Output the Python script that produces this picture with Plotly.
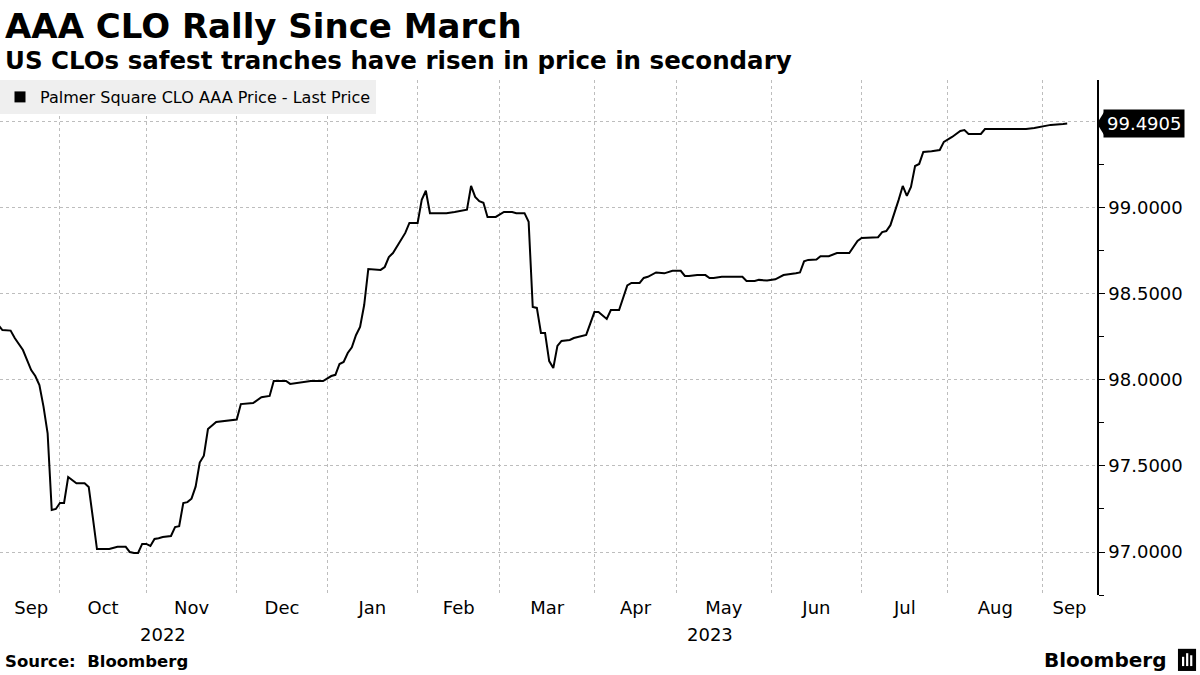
import plotly.graph_objects as go

# Palmer Square CLO AAA price (business days)
dates = [
    "2022-09-12", "2022-09-13", "2022-09-15", "2022-09-16", "2022-09-20", "2022-09-22",
    "2022-09-23", "2022-09-26", "2022-09-27", "2022-09-28", "2022-09-29", "2022-09-30",
    "2022-10-03", "2022-10-04", "2022-10-05", "2022-10-07", "2022-10-11", "2022-10-12",
    "2022-10-13", "2022-10-14", "2022-10-19", "2022-10-21", "2022-10-25", "2022-10-26",
    "2022-10-27", "2022-10-28", "2022-10-31", "2022-11-01", "2022-11-02", "2022-11-03",
    "2022-11-04", "2022-11-07", "2022-11-09", "2022-11-10", "2022-11-11", "2022-11-14",
    "2022-11-15", "2022-11-16", "2022-11-17", "2022-11-18", "2022-11-21", "2022-11-22",
    "2022-11-24", "2022-11-30", "2022-12-01", "2022-12-02", "2022-12-07", "2022-12-09",
    "2022-12-13", "2022-12-14", "2022-12-19", "2022-12-20", "2022-12-22", "2022-12-27",
    "2022-12-30", "2023-01-03", "2023-01-04", "2023-01-05", "2023-01-06", "2023-01-09",
    "2023-01-10", "2023-01-11", "2023-01-12", "2023-01-13", "2023-01-16", "2023-01-19",
    "2023-01-20", "2023-01-23", "2023-01-24", "2023-01-26", "2023-01-27", "2023-01-30",
    "2023-02-01", "2023-02-02", "2023-02-03", "2023-02-06", "2023-02-10", "2023-02-14",
    "2023-02-17", "2023-02-20", "2023-02-21", "2023-02-22", "2023-02-23", "2023-02-24",
    "2023-02-28", "2023-03-02", "2023-03-06", "2023-03-07", "2023-03-09", "2023-03-10",
    "2023-03-13", "2023-03-14", "2023-03-15", "2023-03-16", "2023-03-17", "2023-03-20",
    "2023-03-21", "2023-03-22", "2023-03-24", "2023-03-27", "2023-03-30", "2023-04-03",
    "2023-04-04", "2023-04-06", "2023-04-07", "2023-04-11", "2023-04-13", "2023-04-14",
    "2023-04-18", "2023-04-19", "2023-04-20", "2023-04-24", "2023-04-26", "2023-04-28",
    "2023-05-02", "2023-05-03", "2023-05-04", "2023-05-08", "2023-05-10", "2023-05-11",
    "2023-05-12", "2023-05-16", "2023-05-23", "2023-05-24", "2023-05-26", "2023-05-29",
    "2023-05-31", "2023-06-02", "2023-06-06", "2023-06-09", "2023-06-12", "2023-06-13",
    "2023-06-14", "2023-06-16", "2023-06-19", "2023-06-21", "2023-06-23", "2023-06-28",
    "2023-06-30", "2023-07-03", "2023-07-07", "2023-07-10", "2023-07-11", "2023-07-12",
    "2023-07-13", "2023-07-14", "2023-07-17", "2023-07-18", "2023-07-19", "2023-07-20",
    "2023-07-21", "2023-07-24", "2023-07-26", "2023-07-28", "2023-07-31", "2023-08-02",
    "2023-08-04", "2023-08-07", "2023-08-08", "2023-08-11", "2023-08-14", "2023-08-28",
    "2023-08-30", "2023-08-31", "2023-09-01", "2023-09-05", "2023-09-08", "2023-09-11",
]
prices = [
    98.320, 98.290, 98.287, 98.244, 98.174, 98.058,
    98.023, 97.970, 97.845, 97.690, 97.244, 97.250,
    97.285, 97.285, 97.436, 97.400, 97.400, 97.378,
    97.200, 97.017, 97.017, 97.030, 97.030, 97.000,
    96.994, 96.994, 97.047, 97.047, 97.035, 97.076,
    97.080, 97.087, 97.093, 97.145, 97.150, 97.285,
    97.290, 97.310, 97.380, 97.520, 97.560, 97.715,
    97.756, 97.767, 97.770, 97.860, 97.866, 97.900,
    97.907, 97.994, 97.994, 97.977, 97.983, 97.994,
    97.994, 98.023, 98.030, 98.093, 98.105, 98.157,
    98.190, 98.260, 98.308, 98.436, 98.645, 98.640,
    98.657, 98.715, 98.738, 98.814, 98.855, 98.913,
    98.913, 99.047, 99.100, 98.970, 98.970, 98.977,
    98.990, 99.128, 99.064, 99.040, 99.030, 98.948,
    98.948, 98.977, 98.977, 98.970, 98.970, 98.920,
    98.424, 98.419, 98.273, 98.273, 98.110, 98.070,
    98.198, 98.227, 98.233, 98.244, 98.262, 98.395,
    98.395, 98.355, 98.407, 98.407, 98.550, 98.564,
    98.564, 98.593, 98.600, 98.625, 98.620, 98.635,
    98.635, 98.605, 98.605, 98.610, 98.610, 98.593,
    98.593, 98.600, 98.600, 98.576, 98.576, 98.582,
    98.578, 98.585, 98.610, 98.620, 98.625, 98.690,
    98.698, 98.700, 98.720, 98.720, 98.738, 98.738,
    98.808, 98.826, 98.830, 98.860, 98.866, 98.900,
    98.970, 99.047, 99.128, 99.070, 99.122, 99.244,
    99.256, 99.326, 99.330, 99.337, 99.384, 99.413,
    99.448, 99.453, 99.430, 99.430, 99.459, 99.459,
    99.465, 99.470, 99.477, 99.483, 99.488, 99.4905,
]
last_price = 99.4905

# axis ticks
month_starts = ["2022-10-03", "2022-11-01", "2022-12-01", "2023-01-02", "2023-02-01", "2023-03-01",
                "2023-04-03", "2023-05-01", "2023-06-01", "2023-07-03", "2023-08-01", "2023-09-01"]
month_label_dates = ["2022-09-22", "2022-10-17 12:00", "2022-11-16", "2022-12-16", "2023-01-17",
                     "2023-02-15", "2023-03-16 12:00", "2023-04-17", "2023-05-16 12:00", "2023-06-16",
                     "2023-07-17 12:00", "2023-08-16 12:00", "2023-09-11 14:00"]
month_labels = ["Sep", "Oct", "Nov", "Dec", "Jan", "Feb", "Mar", "Apr", "May", "Jun", "Jul", "Aug", "Sep"]
year_label_dates = ["2022-11-07", "2023-05-11"]
year_labels = ["2022", "2023"]
price_ticks = [97.0, 97.5, 98.0, 98.5, 99.0, 99.5]

FONT = "DejaVu Sans"
GRID = "#bdbdbd"

fig = go.Figure()
fig.add_trace(go.Scatter(x=dates, y=prices, mode="lines",
                         line=dict(color="black", width=2), showlegend=False))
# legend entry with a square swatch
fig.add_trace(go.Scatter(x=[None], y=[None], mode="markers",
                         marker=dict(symbol="square", size=11, color="black"),
                         name="Palmer Square CLO AAA Price - Last Price"))

fig.update_layout(
    width=1200, height=675,
    margin=dict(l=0, r=103, t=80, b=80),
    paper_bgcolor="white", plot_bgcolor="white",
    font=dict(family=FONT, color="black", size=18),
    legend=dict(x=0, y=1, xanchor="left", yanchor="top", bgcolor="#efefef",
                font=dict(size=16), itemwidth=30, borderwidth=0),
)

fig.update_xaxes(
    type="date",
    range=["2022-09-12 10:00", "2023-09-20 06:00"],
    rangebreaks=[dict(bounds=["sat", "mon"])],
    tickmode="array", tickvals=month_label_dates, ticktext=month_labels,
    ticks="", showgrid=False, showline=False, zeroline=False,
    tickfont=dict(size=18),
    minor=dict(tickmode="array", tickvals=month_starts, showgrid=True,
               gridcolor=GRID, griddash="dot", gridwidth=1, ticks=""),
)

fig.update_yaxes(
    side="right", range=[96.75, 99.744],
    tickmode="array", tickvals=price_ticks,
    ticktext=[f"{v:.4f}" if v < 99.5 else "" for v in price_ticks],
    showgrid=True, gridcolor=GRID, griddash="dot", gridwidth=1,
    showline=True, linecolor="black", linewidth=1.5,
    ticks="outside", ticklen=6, tickcolor="black", tickwidth=1.2,
    tickfont=dict(size=18), zeroline=False,
    minor=dict(dtick=0.25, tick0=97, ticks="outside", ticklen=5,
               tickcolor="black", showgrid=False),
)

# last price tag
fig.add_annotation(x=1, xref="paper", y=last_price, yref="y", xanchor="left",
                   xshift=6, text=f"{last_price:.4f}", showarrow=False,
                   font=dict(color="white", size=18), bgcolor="black", borderpad=3)
fig.add_shape(type="path", xref="paper", yref="y", xsizemode="pixel", ysizemode="pixel",
              xanchor=1, yanchor=last_price, path="M 0 0 L 8 13 L 8 -13 Z",
              fillcolor="black", line=dict(width=0))

# year labels under the months
for d, t in zip(year_label_dates, year_labels):
    fig.add_annotation(x=d, xref="x", y=-0.076, yref="paper", text=t, showarrow=False,
                       font=dict(size=18), yanchor="middle")

# titles and footer
fig.add_annotation(x=0, xref="paper", xshift=3, y=1.105, yref="paper", xanchor="left",
                   yanchor="middle", text="<b>AAA CLO Rally Since March</b>",
                   showarrow=False, font=dict(size=34))
fig.add_annotation(x=0, xref="paper", xshift=3, y=1.037, yref="paper", xanchor="left",
                   yanchor="middle",
                   text="<b>US CLOs safest tranches have risen in price in secondary</b>",
                   showarrow=False, font=dict(size=24.5))
fig.add_annotation(x=0, xref="paper", xshift=3, y=-0.130, yref="paper", xanchor="left",
                   yanchor="middle", text="<b>Source:  Bloomberg</b>",
                   showarrow=False, font=dict(size=16.5))
fig.add_annotation(x=1.0647, xref="paper", y=-0.126, yref="paper", xanchor="right",
                   yanchor="middle", text="<b>Bloomberg</b>",
                   showarrow=False, font=dict(size=20))

# small logo mark next to the Bloomberg wordmark
fig.add_shape(type="rect", xref="paper", yref="paper", x0=1.0738, x1=1.0903,
              y0=-0.1475, y1=-0.1045, fillcolor="black", line=dict(width=0))
for bx0, bx1, by1 in [(1.0775, 1.0795, -0.120), (1.0812, 1.0832, -0.113), (1.0849, 1.0869, -0.117)]:
    fig.add_shape(type="rect", xref="paper", yref="paper", x0=bx0, x1=bx1,
                  y0=-0.138, y1=by1, fillcolor="white", line=dict(width=0))

# page body has a default 8px margin; drop it so the figure fills the window
fig.write_html("out.html", config={"displayModeBar": False},
               post_script="document.body.style.margin='0';")
